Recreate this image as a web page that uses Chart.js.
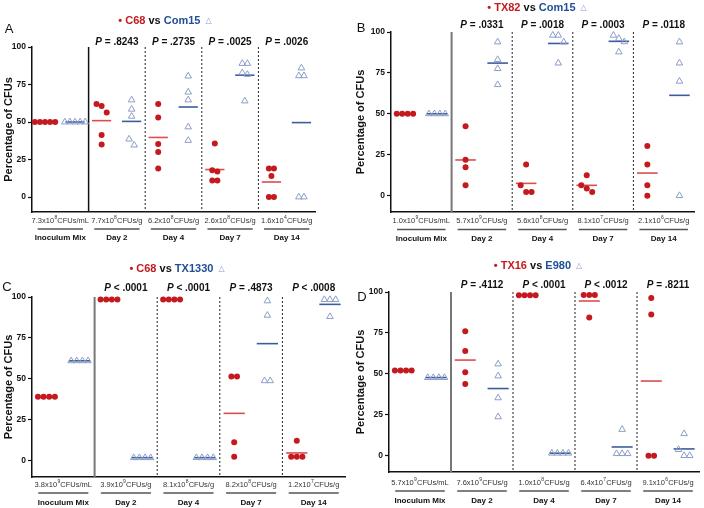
<!DOCTYPE html>
<html>
<head>
<meta charset="utf-8">
<script src="https://cdn.jsdelivr.net/npm/chart.js@4.4.1/dist/chart.umd.min.js"></script>
<style>
body { margin: 0; background: #fff; width: 704px; height: 508px; position: relative; overflow: hidden; }
.p { position: absolute; width: 352px; height: 254px; }
</style>
</head>
<body>
<div class="p" style="left:0;top:0"><canvas id="cA" width="352" height="254"></canvas></div>
<div class="p" style="left:352px;top:0"><canvas id="cB" width="352" height="254"></canvas></div>
<div class="p" style="left:0;top:254px"><canvas id="cC" width="352" height="254"></canvas></div>
<div class="p" style="left:352px;top:254px"><canvas id="cD" width="352" height="254"></canvas></div>
<script>
// groups and y ticks shared by all panels
var groups = ['Inoculum Mix', 'Day 2', 'Day 4', 'Day 7', 'Day 14'];
var yTicks = [0, 25, 50, 75, 100];

// A: C68 vs Com15
var aRed = [[50,50,50,50,50],[62,60.7,56.3,41.3,35],[62,53,35.3,30,19],[35.7,17.9,17,11,11],[19,19,14,0,0]];
var aBlue = [[50,50,50,50,50],[64.7,58.5,53.8,38.6,34.6],[80.6,69.9,64.7,46.7,37.7],[89,89,82.8,81.7,64],[86,80.8,80.8,0,0]];
var aRedMean = [50,50.9,39.7,18.3,10];
var aBlueMean = [50,50.4,60,81.2,49.6];
var aCfu = ['7.3x10^8CFUs/mL','7.7x10^8CFUs/g','6.2x10^8CFUs/g','2.6x10^8CFUs/g','1.6x10^4CFUs/g'];
var aP = ['','= .8243','= .2735','= .0025','= .0026'];

// B: TX82 vs Com15
var bRed = [[50,50,50,50],[42.4,22,17.3,6.3],[19.1,6.3,2.2,2.2],[12.4,6.3,4.3,2.2],[30.3,19.1,6.3,0]];
var bBlue = [[50,50,50,50],[93.9,83.1,77.6,67.8],[98,98,93.9,81],[98,96,94,87.8],[93.9,81,69.9,0]];
var bRedMean = [50,21.8,7.5,6.3,13.8];
var bBlueMean = [50,81,93,94.3,61.3];
var bCfu = ['1.0x10^9CFUs/mL','5.7x10^9CFUs/g','5.6x10^8CFUs/g','8.1x10^7CFUs/g','2.1x10^6CFUs/g'];
var bP = ['','= .0331','= .0018','= .0003','= .0118'];

// C: C68 vs TX1330
var cRed = [[39,39,39,39],[98.5,98.5,98.5,98.5],[98.5,98.5,98.5,98.5],[51.4,51.4,11.2,2.4],[12.2,2.4,2.4,2.4]];
var cBlue = [[61,61,61,61],[1.8,1.8,1.8,1.8],[1.8,1.8,1.8,1.8],[97.6,88.8,48.8,48.8],[98.4,98.4,98.4,88]];
var cRedMean = [39,98.5,98.5,28.9,4.7];
var cBlueMean = [61,1.8,1.8,71.5,95.5];
var cCfu = ['3.8x10^9CFUs/mL','3.9x10^9CFUs/g','8.1x10^8CFUs/g','8.2x10^8CFUs/g','1.2x10^7CFUs/g'];
var cP = ['','< .0001','< .0001','= .4873','< .0008'];

// D: TX16 vs E980
var dRed = [[52,52,52,52],[76,64,51,43.8],[98,98,98,98],[98.2,98.2,98.2,84.4],[96.3,86.2,0,0]];
var dBlue = [[47.7,47.7,47.7,47.7],[56,48.7,35.3,23.7],[1.5,1.5,1.5,1.5],[16,1.2,1.2,1.2],[13.4,3.7,0,0]];
var dRedMean = [52,58.4,98,94.5,45.6];
var dBlueMean = [47.7,41,1.5,5.3,4.1];
var dCfu = ['5.7x10^9CFUs/mL','7.6x10^9CFUs/g','1.0x10^8CFUs/g','6.4x10^7CFUs/g','9.1x10^6CFUs/g'];
var dP = ['','= .4112','< .0001','< .0012','= .8211'];

var RED = '#c41a1f', RED_LINE = '#dc4d4d', BLUE = '#1f4e96', TRI = '#8b9dc9', BLUE_LINE = '#3c5d9c';
var FONT = "'Liberation Sans', Arial, Helvetica, sans-serif";
Chart.defaults.font.family = FONT;

// spread points with (nearly) equal values side by side
function swarm(vals, center, step) {
  var idx = vals.map(function (v, i) { return i; }).sort(function (a, b) { return vals[b] - vals[a]; });
  var rows = [], cur = null, prev = null;
  idx.forEach(function (i) {
    if (cur && prev - vals[i] <= 4.5) cur.push(i); else { cur = [i]; rows.push(cur); }
    prev = vals[i];
  });
  var pts = [];
  rows.forEach(function (r) {
    r.forEach(function (i, k) { pts.push({ x: center + (k - (r.length - 1) / 2) * step, y: vals[i] }); });
  });
  return pts;
}

function drawSegs(ctx, segs, cx, cy) {
  var total = 0;
  segs.forEach(function (s) { ctx.font = s[2]; s.w = ctx.measureText(s[0]).width; total += s.w; });
  var x = cx - total / 2;
  ctx.textAlign = 'left'; ctx.textBaseline = 'middle';
  segs.forEach(function (s) { ctx.font = s[2]; ctx.fillStyle = s[1]; ctx.fillText(s[0], x, cy); x += s.w; });
}

function drawCfu(ctx, s, cx, cy) {
  var k = s.indexOf('^');
  var a = s.slice(0, k), sup = s.charAt(k + 1), b = s.slice(k + 2);
  var big = '7.5px ' + FONT, small = '5px ' + FONT;
  ctx.font = big; var wa = ctx.measureText(a).width, wb = ctx.measureText(b).width;
  ctx.font = small; var ws = ctx.measureText(sup).width + 0.5;
  var x = cx - (wa + ws + wb) / 2;
  ctx.textAlign = 'left'; ctx.textBaseline = 'middle'; ctx.fillStyle = '#333';
  ctx.font = big; ctx.fillText(a, x, cy);
  ctx.font = small; ctx.fillText(sup, x + wa + 0.3, cy - 3);
  ctx.font = big; ctx.fillText(b, x + wa + ws, cy);
}

var decor = {
  id: 'decor',
  beforeDatasetsDraw: function (chart, args, o) {
    var ctx = chart.ctx, xs = chart.scales.x, ca = chart.chartArea;
    ctx.save();
    for (var i = 1; i < groups.length; i++) {
      var px = xs.getPixelForValue(i);
      ctx.beginPath();
      if (i === 1) { ctx.setLineDash([]); ctx.lineWidth = o.solidWidth; ctx.strokeStyle = o.solidColor; }
      else { ctx.setLineDash([2, 2]); ctx.lineWidth = 1; ctx.strokeStyle = '#222'; }
      ctx.moveTo(px, ca.top); ctx.lineTo(px, ca.bottom); ctx.stroke();
    }
    ctx.restore();
  },
  afterDraw: function (chart, args, o) {
    var ctx = chart.ctx, xs = chart.scales.x, ca = chart.chartArea;
    ctx.save();
    // panel letter
    ctx.font = '13px ' + FONT; ctx.fillStyle = '#111'; ctx.textAlign = 'center'; ctx.textBaseline = 'middle';
    ctx.fillText(o.letter, o.letterX, o.letterY);
    // legend title
    drawSegs(ctx, [
      ['\u2022', RED, 'bold 11px ' + FONT],
      [' ' + o.names[0], RED, 'bold 11px ' + FONT],
      [' vs ', '#111', 'bold 11px ' + FONT],
      [o.names[1], BLUE, 'bold 11px ' + FONT],
      ['  \u25B3', TRI, '8px DejaVu Sans']
    ], o.titleX, o.titleY);
    for (var i = 0; i < groups.length; i++) {
      var c = xs.getPixelForValue(i + 0.5);
      var l = xs.getPixelForValue(i + 0.1), r = xs.getPixelForValue(i + 0.9);
      if (o.pv[i]) {
        drawSegs(ctx, [['P', '#111', 'italic bold 10px ' + FONT], [' ' + o.pv[i], '#111', 'bold 10px ' + FONT]], c, o.pY);
      }
      drawCfu(ctx, o.cfu[i], c, ca.bottom + o.off[0]);
      ctx.beginPath(); ctx.setLineDash([]); ctx.lineWidth = 1.5; ctx.strokeStyle = '#555';
      ctx.moveTo(l, ca.bottom + o.off[1]); ctx.lineTo(r, ca.bottom + o.off[1]); ctx.stroke();
      ctx.font = 'bold 8px ' + FONT; ctx.fillStyle = '#111'; ctx.textAlign = 'center'; ctx.textBaseline = 'middle';
      ctx.fillText(groups[i], c, ca.bottom + o.off[2]);
    }
    ctx.restore();
  }
};

function makePanel(id, red, blue, redMean, blueMean, cfu, pv, names, lay) {
  var step = 0.09, rx = 0.23, bx = 0.76;
  var redPts = [], bluePts = [];
  for (var i = 0; i < groups.length; i++) {
    redPts = redPts.concat(swarm(red[i], i + rx, step));
    bluePts = bluePts.concat(swarm(blue[i], i + bx, step));
  }
  var datasets = [
    { label: names[0], data: redPts, pointStyle: 'circle', pointRadius: 3, pointBackgroundColor: RED, pointBorderWidth: 0, clip: false },
    { label: names[1], data: bluePts, pointStyle: 'triangle', pointRadius: 3.8, pointBackgroundColor: 'rgba(0,0,0,0)', pointBorderColor: TRI, pointBorderWidth: 1, clip: false }
  ];
  for (var j = 0; j < groups.length; j++) {
    datasets.push({ data: [{ x: j + rx - 0.17, y: redMean[j] }, { x: j + rx + 0.17, y: redMean[j] }], showLine: true, borderColor: RED_LINE, borderWidth: 1.6, pointRadius: 0, clip: false });
    datasets.push({ data: [{ x: j + bx - 0.17, y: blueMean[j] }, { x: j + bx + 0.17, y: blueMean[j] }], showLine: true, borderColor: BLUE_LINE, borderWidth: 1.6, pointRadius: 0, clip: false });
  }
  new Chart(document.getElementById(id).getContext('2d'), {
    type: 'scatter',
    data: { datasets: datasets },
    plugins: [decor],
    options: {
      responsive: false,
      animation: false,
      events: [],
      layout: { padding: { top: lay.top, bottom: lay.bottom, left: 0, right: lay.right } },
      plugins: {
        legend: { display: false },
        tooltip: { enabled: false },
        decor: {
          letter: lay.letter, letterX: lay.letterX, letterY: lay.letterY,
          titleX: lay.titleX, titleY: lay.titleY, names: names, pY: lay.pY,
          pv: pv, cfu: cfu, off: lay.off, solidColor: lay.solidColor, solidWidth: lay.solidWidth
        }
      },
      scales: {
        x: {
          type: 'linear', min: 0, max: groups.length,
          grid: { display: false },
          ticks: { display: false },
          border: { display: true, color: '#111', width: 1.5 },
          afterFit: function (s) { s.height = 0; }
        },
        y: {
          min: -10, max: 100,
          afterBuildTicks: function (s) { s.ticks = yTicks.map(function (v) { return { value: v }; }); },
          grid: { display: true, drawOnChartArea: false, drawTicks: true, tickLength: 4, tickColor: '#111', tickWidth: 1.2 },
          border: { display: true, color: '#111', width: 1.5 },
          ticks: { color: '#111', font: { size: 8.5, weight: 'bold' }, padding: 2 },
          title: { display: true, text: 'Percentage of CFUs', color: '#111', font: { size: 11, weight: 'bold' }, padding: { top: 2, bottom: 0 } },
          afterFit: function (s) { s.width = lay.left; }
        }
      }
    }
  });
}

makePanel('cA', aRed, aBlue, aRedMean, aBlueMean, aCfu, aP, ['C68', 'Com15'],
  { top: 47, bottom: 42, left: 32, right: 37, letter: 'A', letterX: 9, letterY: 29, titleX: 165, titleY: 21, pY: 42, off: [9, 17, 25.5], solidColor: '#111', solidWidth: 1.5 });
makePanel('cB', bRed, bBlue, bRedMean, bBlueMean, bCfu, bP, ['TX82', 'Com15'],
  { top: 32, bottom: 42, left: 39, right: 10, letter: 'B', letterX: 9, letterY: 28, titleX: 185, titleY: 8, pY: 25, off: [8.5, 17.5, 27], solidColor: '#777', solidWidth: 2 });
makePanel('cC', cRed, cBlue, cRedMean, cBlueMean, cCfu, cP, ['C68', 'TX1330'],
  { top: 43, bottom: 31, left: 32, right: 7, letter: 'C', letterX: 7, letterY: 33, titleX: 177, titleY: 15, pY: 34, off: [7.5, 16, 25.5], solidColor: '#777', solidWidth: 2 });
makePanel('cD', dRed, dBlue, dRedMean, dBlueMean, dCfu, dP, ['TX16', 'E980'],
  { top: 38, bottom: 36, left: 37, right: 2, letter: 'D', letterX: 10, letterY: 43, titleX: 186, titleY: 12, pY: 31, off: [11, 19, 28.5], solidColor: '#777', solidWidth: 2 });
</script>
</body>
</html>
